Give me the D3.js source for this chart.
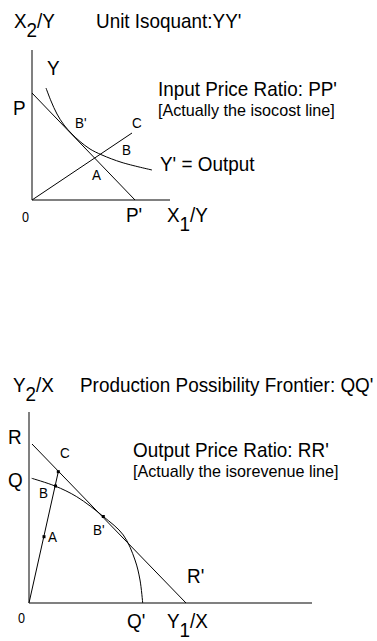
<!DOCTYPE html>
<html>
<head>
<meta charset="utf-8">
<script src="https://cdnjs.cloudflare.com/ajax/libs/d3/7.8.5/d3.min.js"></script>
<style>
    body { margin: 0; background: #fff; }
    text { font-family: "Liberation Sans", Arial, sans-serif; fill: #000; }
    .axis-line { stroke: #808080; stroke-width: 2; }
    .curve { fill: none; stroke: #000; stroke-width: 1; }
    .big { font-size: 21px; }
    .note { font-size: 17px; }
    .small { font-size: 15px; }
    .zero { font-size: 14px; }
</style>
</head>
<body>
<div id="chart"></div>
<script>
var width = 377, height = 641
// the original lettering is a narrow Arial, so every label is squeezed a bit
var squeeze = 0.9

// ---- top panel: unit isoquant (units roughly = pixels from the origin)
const topAxisMax = [138, 150]
const isocost = [[0, 107], [103, 0]]
const topRay = [[0, 0], [100, 67]]
const isoquant = [[14, 112], [19, 99], [25, 86], [32, 75], [40, 66], [48, 58.5], [58, 51], [70, 45], [90, 37.5], [120, 30]]
const topLabels = [
    {text: "Y", x: 15, y: 125, cls: "big"},
    {text: "P", x: -19, y: 85, cls: "big"},
    {text: "B'", x: 43, y: 72, cls: "small"},
    {text: "C", x: 100, y: 72, cls: "small"},
    {text: "B", x: 90, y: 45, cls: "small"},
    {text: "A", x: 60, y: 20, cls: "small"},
    {text: "Y' = Output", x: 128, y: 29, cls: "big"},
    {text: "0", x: -10, y: -22, cls: "zero"},
    {text: "P'", x: 94, y: -22, cls: "big"},
    {text: "Unit Isoquant:YY'", x: 64, y: 172, cls: "big"},
    {text: "Input Price Ratio: PP'", x: 126, y: 104, cls: "big"},
    {text: "[Actually the isocost line]", x: 126, y: 84, cls: "note"}
]
const topAxisNames = [
    {main: "X", sub: "1", rest: "/Y", x: 135, y: -22},
    {main: "X", sub: "2", rest: "/Y", x: -18, y: 172}
]

// ---- bottom panel: production possibility frontier
const botAxisMax = [283, 191]
const isorevenue = [[3, 159], [157, 0]]
const botRay = [[0, 0], [29.3, 131.3]]
const ppf = [[2.7, 124.7], [26, 117], [47.7, 106.3], [74.3, 86.5], [94.3, 68], [106, 43], [111, 23], [113.7, 0]]
const botDots = [[29.3, 131.3], [26.5, 117], [15, 66.3], [74.3, 86.5]]
const botLabels = [
    {text: "R", x: -21, y: 159, cls: "big"},
    {text: "Q", x: -21, y: 116, cls: "big"},
    {text: "C", x: 31, y: 145, cls: "small"},
    {text: "B", x: 10, y: 105, cls: "small"},
    {text: "A", x: 19, y: 61, cls: "small"},
    {text: "B'", x: 64, y: 68, cls: "small"},
    {text: "R'", x: 158, y: 20, cls: "big"},
    {text: "0", x: -11, y: -20, cls: "zero"},
    {text: "Q'", x: 98, y: -25, cls: "big"},
    {text: "Production Possibility Frontier: QQ'", x: 51, y: 211, cls: "big"},
    {text: "Output Price Ratio: RR'", x: 104, y: 146, cls: "big"},
    {text: "[Actually the isorevenue line]", x: 104, y: 126, cls: "note"}
]
const botAxisNames = [
    {main: "Y", sub: "1", rest: "/X", x: 138, y: -25},
    {main: "Y", sub: "2", rest: "/X", x: -16, y: 211}
]

var svg = d3.select("#chart")
    .append("svg")
    .attr("width", width)
    .attr("height", height)
    .attr("display", "block")

function place(x, y, cls)
{
    // bracketed notes are a little smaller, so squeeze them less
    var s = cls == "note" ? 0.95 : squeeze
    return "translate(" + x + "," + y + ") scale(" + s + ",1)"
}

function drawPanel(p)
{
    var xScale = d3.scaleLinear().domain([0, p.axisMax[0]]).range([p.origin[0], p.origin[0] + p.axisMax[0]])
    var yScale = d3.scaleLinear().domain([0, p.axisMax[1]]).range([p.origin[1], p.origin[1] - p.axisMax[1]])
    var g = svg.append("g")

    // axes are plain grey strokes, no ticks
    g.append("line").attr("class", "axis-line")
        .attr("x1", xScale(0)).attr("y1", yScale(0))
        .attr("x2", xScale(0)).attr("y2", yScale(p.axisMax[1]))
    g.append("line").attr("class", "axis-line")
        .attr("x1", xScale(0)).attr("y1", yScale(0))
        .attr("x2", xScale(p.axisMax[0])).attr("y2", yScale(0))

    var straight = d3.line().x(d => xScale(d[0])).y(d => yScale(d[1]))
    var smooth = d3.line().x(d => xScale(d[0])).y(d => yScale(d[1])).curve(d3.curveCatmullRom.alpha(0.5))

    p.lines.forEach(function(l) {
        g.append("path").attr("class", "curve").attr("d", straight(l))
    })
    g.append("path").attr("class", "curve").attr("d", smooth(p.curve))

    g.selectAll("rect.dot")
        .data(p.dots)
        .enter()
        .append("rect")
            .attr("class", "dot")
            .attr("x", d => xScale(d[0]) - 1.5)
            .attr("y", d => yScale(d[1]) - 1.5)
            .attr("width", 3)
            .attr("height", 3)
            .attr("fill", "#000")

    g.selectAll("text.lbl")
        .data(p.labels)
        .enter()
        .append("text")
            .attr("class", d => "lbl " + d.cls)
            .attr("transform", d => place(xScale(d.x), yScale(d.y), d.cls))
            .text(d => d.text)

    p.names.forEach(function(n) {
        var t = g.append("text").attr("class", "big")
            .attr("transform", place(xScale(n.x), yScale(n.y), "big"))
        t.append("tspan").text(n.main)
        t.append("tspan").attr("dy", 9).text(n.sub)
        t.append("tspan").attr("dy", -9).text(n.rest)
    })
}

drawPanel({
    origin: [32, 200], axisMax: topAxisMax,
    lines: [isocost, topRay], curve: isoquant, dots: [],
    labels: topLabels, names: topAxisNames
})

drawPanel({
    origin: [29, 603], axisMax: botAxisMax,
    lines: [isorevenue, botRay], curve: ppf, dots: botDots,
    labels: botLabels, names: botAxisNames
})
</script>
</body>
</html>
